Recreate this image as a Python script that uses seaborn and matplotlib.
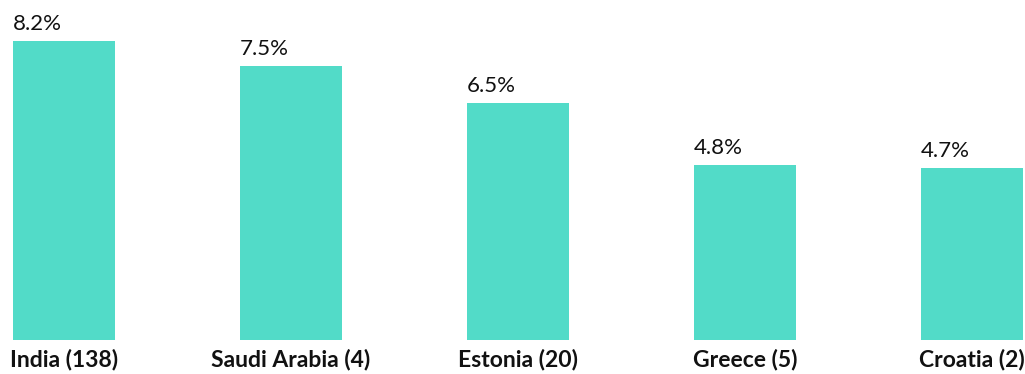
import matplotlib
matplotlib.use("Agg")
import matplotlib.pyplot as plt
import seaborn as sns
import pandas as pd
import numpy as np

# Share values by country (number of respondents in parentheses)
countries = ["India (138)", "Saudi Arabia (4)", "Estonia (20)", "Greece (5)", "Croatia (2)"]
shares = [8.2, 7.5, 6.5, 4.8, 4.7]

bar_color = "#52DBC8"

sns.set_theme(style="white")
plt.rcParams["font.family"] = ["Lato", "DejaVu Sans"]

df = pd.DataFrame({"country": countries, "share": shares})

fig = plt.figure(figsize=(10.25, 3.74), dpi=100)
ax = fig.add_axes([0, 34 / 374, 1, 340 / 374])

sns.barplot(data=df, x="country", y="share", color=bar_color, width=0.45,
            saturation=1, linewidth=0, ax=ax)

ax.set_xlim(-0.282, 4.233)
ax.set_ylim(0, 9.315)

# Value labels, left-aligned with each bar's edge
for i, v in enumerate(shares):
    ax.annotate(f"{v}%", xy=(i - 0.45 / 2, v), xytext=(0, 8),
                textcoords="offset points", ha="left", va="baseline",
                fontsize=16, color="#111111")

for s in ax.spines.values():
    s.set_visible(False)
ax.set_yticks([])
ax.set_xlabel("")
ax.set_ylabel("")

ax.tick_params(axis="x", which="major", length=0, pad=6, labelsize=16.5,
               labelcolor="#111111")
for lbl in ax.get_xticklabels():
    lbl.set_fontweight("bold")

# Light separators between categories
ax.set_xticks(np.arange(0.5, len(countries) - 0.5, 1.0), minor=True)
ax.tick_params(axis="x", which="minor", length=7.5, width=1.2,
               color="#d9d9d9", direction="out")

fig.savefig("out.png", dpi=100)
